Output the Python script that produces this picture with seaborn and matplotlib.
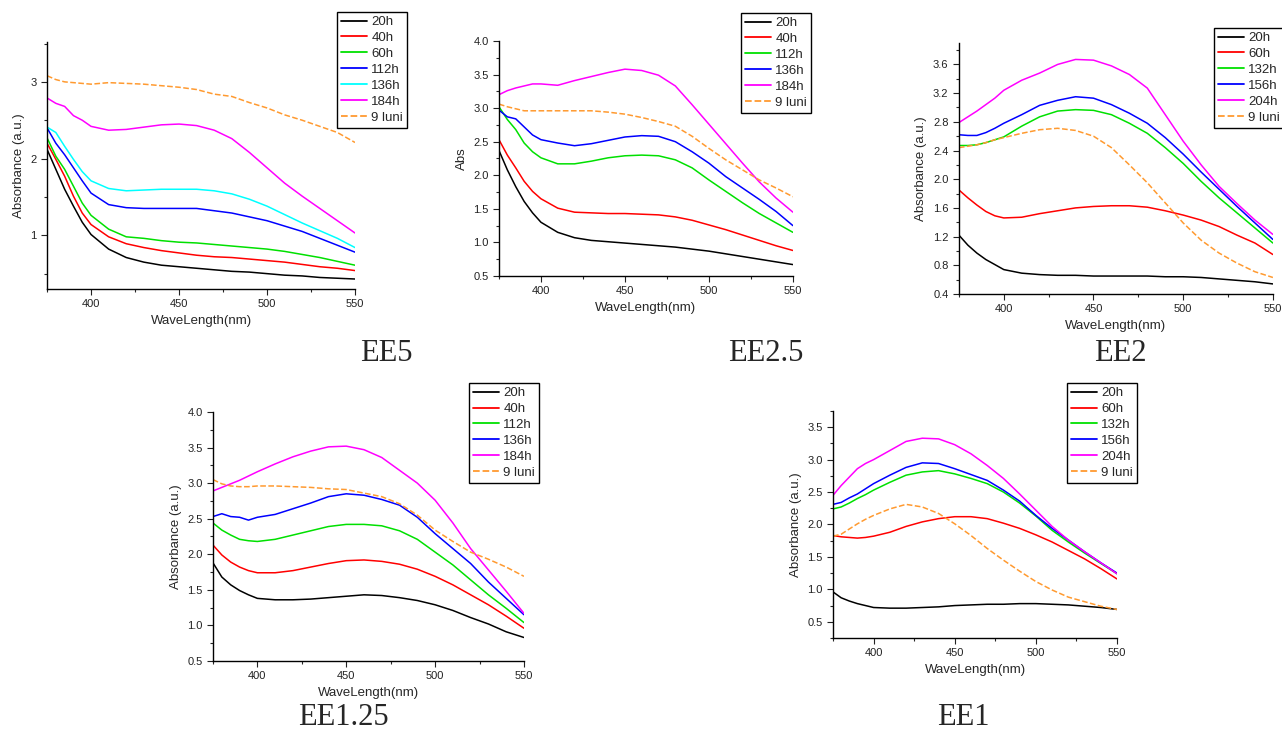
import matplotlib
matplotlib.use("Agg")
import matplotlib.pyplot as plt
import seaborn as sns
import pandas as pd
from matplotlib.ticker import MultipleLocator, FormatStrFormatter
from matplotlib.lines import Line2D

sns.set_style("ticks")
plt.rcParams["font.family"] = ["Liberation Sans", "DejaVu Sans"]

wavelength = [375, 380, 385, 390, 395, 400, 410, 420, 430, 440, 450,
              460, 470, 480, 490, 500, 510, 520, 530, 540, 550]

# ---------------- EE5 ----------------
ee5_labels = ["20h", "40h", "60h", "112h", "136h", "184h", "9 luni"]
ee5_20h = [2.12, 1.86, 1.60, 1.38, 1.17, 1.01, 0.82, 0.71, 0.65, 0.61, 0.59, 0.57, 0.55, 0.53, 0.52, 0.50, 0.48, 0.47, 0.45, 0.44, 0.43]
ee5_40h = [2.20, 1.99, 1.77, 1.51, 1.29, 1.14, 0.98, 0.89, 0.84, 0.80, 0.77, 0.74, 0.72, 0.71, 0.69, 0.67, 0.65, 0.62, 0.59, 0.57, 0.54]
ee5_60h = [2.27, 2.03, 1.86, 1.64, 1.42, 1.26, 1.08, 0.98, 0.96, 0.93, 0.91, 0.90, 0.88, 0.86, 0.84, 0.82, 0.79, 0.75, 0.71, 0.66, 0.61]
ee5_112h = [2.40, 2.20, 2.05, 1.88, 1.71, 1.55, 1.40, 1.36, 1.35, 1.35, 1.35, 1.35, 1.32, 1.29, 1.24, 1.19, 1.12, 1.05, 0.96, 0.87, 0.78]
ee5_136h = [2.41, 2.34, 2.16, 1.99, 1.83, 1.71, 1.61, 1.58, 1.59, 1.60, 1.60, 1.60, 1.58, 1.54, 1.47, 1.38, 1.27, 1.16, 1.06, 0.96, 0.84]
ee5_184h = [2.79, 2.72, 2.68, 2.56, 2.50, 2.42, 2.37, 2.38, 2.41, 2.44, 2.45, 2.43, 2.37, 2.26, 2.08, 1.88, 1.68, 1.51, 1.35, 1.19, 1.03]
ee5_9luni = [3.08, 3.03, 3.00, 2.99, 2.98, 2.97, 2.99, 2.98, 2.97, 2.95, 2.93, 2.90, 2.84, 2.81, 2.73, 2.66, 2.57, 2.50, 2.42, 2.34, 2.21]

# ---------------- EE2.5 ----------------
ee25_labels = ["20h", "40h", "112h", "136h", "184h", "9 luni"]
ee25_20h = [2.37, 2.08, 1.83, 1.61, 1.44, 1.30, 1.15, 1.07, 1.03, 1.01, 0.99, 0.97, 0.95, 0.93, 0.90, 0.87, 0.83, 0.79, 0.75, 0.71, 0.67]
ee25_40h = [2.53, 2.30, 2.11, 1.91, 1.76, 1.65, 1.51, 1.45, 1.44, 1.43, 1.43, 1.42, 1.41, 1.38, 1.33, 1.26, 1.19, 1.11, 1.03, 0.95, 0.88]
ee25_112h = [3.02, 2.83, 2.68, 2.48, 2.35, 2.26, 2.17, 2.17, 2.21, 2.26, 2.29, 2.30, 2.29, 2.23, 2.11, 1.93, 1.76, 1.59, 1.43, 1.29, 1.15]
ee25_136h = [2.97, 2.87, 2.84, 2.72, 2.60, 2.53, 2.48, 2.44, 2.47, 2.52, 2.57, 2.59, 2.58, 2.50, 2.35, 2.18, 1.98, 1.81, 1.64, 1.46, 1.25]
ee25_184h = [3.20, 3.26, 3.30, 3.33, 3.36, 3.36, 3.34, 3.41, 3.47, 3.53, 3.58, 3.56, 3.49, 3.33, 3.05, 2.76, 2.47, 2.18, 1.90, 1.66, 1.45]
ee25_9luni = [3.06, 3.02, 2.99, 2.96, 2.96, 2.96, 2.96, 2.96, 2.96, 2.94, 2.91, 2.86, 2.80, 2.73, 2.58, 2.40, 2.23, 2.08, 1.93, 1.81, 1.68]

# ---------------- EE2 ----------------
ee2_labels = ["20h", "60h", "132h", "156h", "204h", "9 luni"]
ee2_20h = [1.22, 1.08, 0.97, 0.88, 0.81, 0.74, 0.69, 0.67, 0.66, 0.66, 0.65, 0.65, 0.65, 0.65, 0.64, 0.64, 0.63, 0.61, 0.59, 0.57, 0.54]
ee2_60h = [1.85, 1.74, 1.64, 1.55, 1.49, 1.46, 1.47, 1.52, 1.56, 1.60, 1.62, 1.63, 1.63, 1.61, 1.56, 1.50, 1.43, 1.34, 1.22, 1.11, 0.95]
ee2_132h = [2.47, 2.47, 2.48, 2.51, 2.55, 2.59, 2.74, 2.87, 2.95, 2.97, 2.96, 2.90, 2.78, 2.64, 2.44, 2.22, 1.97, 1.74, 1.53, 1.32, 1.11]
ee2_156h = [2.62, 2.61, 2.61, 2.65, 2.71, 2.78, 2.90, 3.03, 3.10, 3.15, 3.13, 3.04, 2.92, 2.78, 2.58, 2.35, 2.10, 1.86, 1.62, 1.39, 1.16]
ee2_204h = [2.79, 2.87, 2.95, 3.04, 3.13, 3.24, 3.38, 3.48, 3.60, 3.67, 3.66, 3.58, 3.46, 3.27, 2.90, 2.53, 2.20, 1.90, 1.66, 1.43, 1.23]
ee2_9luni = [2.44, 2.46, 2.48, 2.51, 2.55, 2.58, 2.64, 2.69, 2.71, 2.68, 2.60, 2.44, 2.20, 1.95, 1.67, 1.39, 1.15, 0.97, 0.83, 0.71, 0.63]

# ---------------- EE1.25 ----------------
ee125_labels = ["20h", "40h", "112h", "136h", "184h", "9 luni"]
ee125_20h = [1.88, 1.68, 1.57, 1.49, 1.43, 1.38, 1.36, 1.36, 1.37, 1.39, 1.41, 1.43, 1.42, 1.39, 1.35, 1.29, 1.21, 1.11, 1.02, 0.91, 0.83]
ee125_40h = [2.13, 1.99, 1.89, 1.82, 1.77, 1.74, 1.74, 1.77, 1.82, 1.87, 1.91, 1.92, 1.90, 1.86, 1.79, 1.69, 1.57, 1.43, 1.29, 1.13, 0.96]
ee125_112h = [2.44, 2.34, 2.27, 2.21, 2.19, 2.18, 2.21, 2.27, 2.33, 2.39, 2.42, 2.42, 2.40, 2.33, 2.21, 2.03, 1.85, 1.64, 1.43, 1.24, 1.04]
ee125_136h = [2.53, 2.57, 2.53, 2.52, 2.48, 2.52, 2.56, 2.64, 2.72, 2.81, 2.85, 2.83, 2.77, 2.69, 2.52, 2.29, 2.08, 1.87, 1.61, 1.38, 1.15]
ee125_184h = [2.89, 2.94, 2.99, 3.04, 3.10, 3.16, 3.27, 3.37, 3.45, 3.51, 3.52, 3.47, 3.36, 3.18, 3.00, 2.76, 2.44, 2.08, 1.78, 1.48, 1.17]
ee125_9luni = [3.05, 2.99, 2.96, 2.95, 2.95, 2.96, 2.96, 2.95, 2.94, 2.92, 2.91, 2.86, 2.81, 2.71, 2.55, 2.34, 2.18, 2.03, 1.93, 1.82, 1.69]

# ---------------- EE1 ----------------
ee1_labels = ["20h", "60h", "132h", "156h", "204h", "9 luni"]
ee1_20h = [0.96, 0.87, 0.82, 0.78, 0.75, 0.72, 0.71, 0.71, 0.72, 0.73, 0.75, 0.76, 0.77, 0.77, 0.78, 0.78, 0.77, 0.76, 0.74, 0.72, 0.69]
ee1_60h = [1.83, 1.81, 1.80, 1.79, 1.80, 1.82, 1.88, 1.97, 2.04, 2.09, 2.12, 2.12, 2.09, 2.02, 1.94, 1.84, 1.73, 1.60, 1.47, 1.32, 1.16]
ee1_132h = [2.24, 2.27, 2.33, 2.40, 2.46, 2.53, 2.65, 2.76, 2.81, 2.83, 2.78, 2.71, 2.63, 2.50, 2.33, 2.13, 1.91, 1.73, 1.56, 1.40, 1.24]
ee1_156h = [2.31, 2.34, 2.41, 2.47, 2.55, 2.63, 2.76, 2.88, 2.95, 2.94, 2.86, 2.77, 2.68, 2.53, 2.36, 2.14, 1.94, 1.76, 1.58, 1.41, 1.25]
ee1_204h = [2.45, 2.60, 2.73, 2.86, 2.94, 3.00, 3.14, 3.28, 3.33, 3.32, 3.23, 3.09, 2.91, 2.71, 2.47, 2.22, 1.97, 1.76, 1.58, 1.41, 1.24]
ee1_9luni = [1.82, 1.85, 1.93, 2.01, 2.08, 2.14, 2.24, 2.31, 2.27, 2.17, 2.01, 1.83, 1.63, 1.45, 1.28, 1.12, 0.99, 0.88, 0.81, 0.74, 0.69]

BLACK, RED, GREEN, BLUE, CYAN, MAGENTA, ORANGE = (
    "#000000", "#ff0000", "#00e000", "#0000ff", "#00ffff", "#ff00ff", "#ff9a30")

panels = [
    dict(rect=[0.0367, 0.6063, 0.2402, 0.3365], ylim=(0.3, 3.52), major=1.0, minor=0.5, fmt="%d",
         ylabel="Absorbance (a.u.)", title="EE5", tpos=(0.301, 0.519), leg=(0.2629, 0.9837),
         labels=ee5_labels,
         series=[ee5_20h, ee5_40h, ee5_60h, ee5_112h, ee5_136h, ee5_184h, ee5_9luni],
         colors=[BLACK, RED, GREEN, BLUE, CYAN, MAGENTA, ORANGE]),
    dict(rect=[0.3892, 0.6240, 0.2293, 0.3202], ylim=(0.5, 4.0), major=0.5, minor=0.25, fmt="%.1f",
         ylabel="Abs", title="EE2.5", tpos=(0.5975, 0.519), leg=(0.5780, 0.9823),
         labels=ee25_labels,
         series=[ee25_20h, ee25_40h, ee25_112h, ee25_136h, ee25_184h, ee25_9luni],
         colors=[BLACK, RED, GREEN, BLUE, MAGENTA, ORANGE]),
    dict(rect=[0.7480, 0.5995, 0.2449, 0.3420], ylim=(0.4, 3.9), major=0.4, minor=0.2, fmt="%.1f",
         ylabel="Absorbance (a.u.)", title="EE2", tpos=(0.8736, 0.519), leg=(0.9470, 0.9619),
         labels=ee2_labels,
         series=[ee2_20h, ee2_60h, ee2_132h, ee2_156h, ee2_204h, ee2_9luni],
         colors=[BLACK, RED, GREEN, BLUE, MAGENTA, ORANGE]),
    dict(rect=[0.1661, 0.0995, 0.2426, 0.3392], ylim=(0.5, 4.0), major=0.5, minor=0.25, fmt="%.1f",
         ylabel="Absorbance (a.u.)", title="EE1.25", tpos=(0.2676, 0.0218), leg=(0.3658, 0.4782),
         labels=ee125_labels,
         series=[ee125_20h, ee125_40h, ee125_112h, ee125_136h, ee125_184h, ee125_9luni],
         colors=[BLACK, RED, GREEN, BLUE, MAGENTA, ORANGE]),
    dict(rect=[0.6498, 0.1308, 0.2215, 0.3093], ylim=(0.25, 3.75), major=0.5, minor=0.25, fmt="%.1f",
         ylabel="Absorbance (a.u.)", title="EE1", tpos=(0.7512, 0.0218), leg=(0.8323, 0.4782),
         labels=ee1_labels,
         series=[ee1_20h, ee1_60h, ee1_132h, ee1_156h, ee1_204h, ee1_9luni],
         colors=[BLACK, RED, GREEN, BLUE, MAGENTA, ORANGE]),
]

fig = plt.figure(figsize=(12.82, 7.34), dpi=100)

for p in panels:
    ax = fig.add_axes(p["rect"])
    handles = []
    for lab, vals, col in zip(p["labels"], p["series"], p["colors"]):
        ls = "--" if lab == "9 luni" else "-"
        df = pd.DataFrame({"wl": wavelength, "abs": vals})
        sns.lineplot(data=df, x="wl", y="abs", ax=ax, color=col, linestyle=ls,
                     linewidth=1.1, legend=False)
        handles.append(Line2D([0], [0], color=col, linestyle=ls, linewidth=1.3, label=lab))
    ax.set_xlim(375, 550)
    ax.set_ylim(*p["ylim"])
    ax.xaxis.set_major_locator(MultipleLocator(50))
    ax.xaxis.set_minor_locator(MultipleLocator(25))
    ax.yaxis.set_major_locator(MultipleLocator(p["major"]))
    ax.yaxis.set_minor_locator(MultipleLocator(p["minor"]))
    ax.yaxis.set_major_formatter(FormatStrFormatter(p["fmt"]))
    ax.tick_params(which="major", direction="out", length=4, width=0.8, labelsize=8, colors="#222222")
    ax.tick_params(which="minor", direction="out", length=2.5, width=0.8)
    for s in ["top", "right"]:
        ax.spines[s].set_visible(False)
    for s in ["left", "bottom"]:
        ax.spines[s].set_color("black")
        ax.spines[s].set_linewidth(1.0)
    ax.set_xlabel("WaveLength(nm)", fontsize=9.5)
    ax.set_ylabel(p["ylabel"], fontsize=9.5)
    leg = ax.legend(handles=handles, loc="upper left", bbox_to_anchor=p["leg"],
                    bbox_transform=fig.transFigure, borderaxespad=0, fontsize=9.5,
                    labelspacing=0.28, handlelength=2.0, handletextpad=0.3,
                    borderpad=0.3, fancybox=False, framealpha=1, edgecolor="black")
    leg.get_frame().set_linewidth(1.0)
    fig.text(p["tpos"][0], p["tpos"][1], p["title"], ha="center", va="center",
             fontsize=22, family=["Liberation Serif", "DejaVu Serif"])

fig.savefig("out.png", dpi=100)
